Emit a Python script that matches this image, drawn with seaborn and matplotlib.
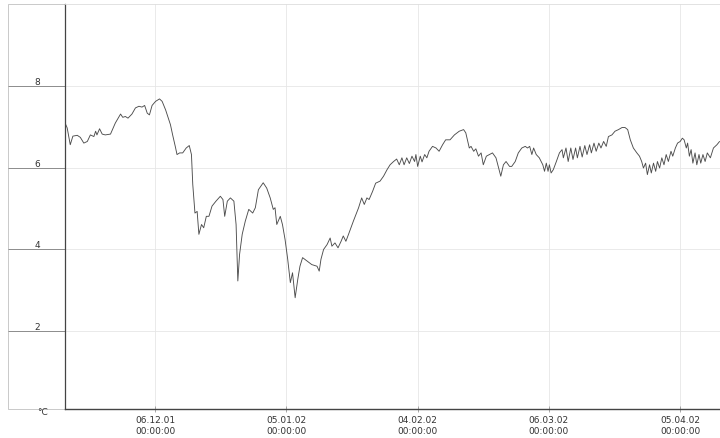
import matplotlib
matplotlib.use("Agg")
import matplotlib.pyplot as plt
import numpy as np
import pandas as pd
import seaborn as sns
from matplotlib.patches import Rectangle

# days counted from 06.12.01 00:00
day = [-20.5, -20.1, -19.4, -18.8, -17.8, -17.1, -16.3, -15.5, -14.8, -14.0,
       -13.6, -13.3, -12.7, -12.1, -11.4, -10.2, -9.1, -7.9, -7.4, -6.8,
       -6.2, -5.3, -4.5, -3.7, -3.0, -2.4, -1.8, -1.3, -0.7, 0.1,
       1.0, 1.6, 2.4, 3.0, 3.5, 4.0, 4.6, 5.0, 5.6, 6.3,
       7.1, 7.8, 8.3, 8.6, 9.1, 9.6, 10.0, 10.6, 11.1, 11.7,
       12.3, 13.0, 13.9, 14.9, 15.5, 15.9, 16.5, 17.2, 18.0, 18.5,
       18.9, 19.3, 19.9, 20.6, 21.4, 22.3, 22.9, 23.6, 24.7, 25.5,
       26.3, 27.0, 27.4, 27.8, 28.6, 29.1, 29.7, 30.3, 30.9, 31.4,
       32.0, 32.6, 33.1, 33.7, 34.7, 35.8, 37.0, 37.5, 37.9, 38.5,
       39.3, 40.0, 40.4, 41.1, 41.8, 42.5, 43.0, 43.6, 44.2, 45.3,
       46.5, 47.2, 47.8, 48.4, 48.9, 49.7, 50.4, 51.4, 52.2, 53.0,
       53.7, 54.5, 55.2, 55.8, 56.4, 56.9, 57.5, 58.1, 58.7, 59.3,
       59.6, 60.0, 60.6, 61.0, 61.6, 62.1, 62.6, 63.4, 64.2, 64.9,
       65.7, 66.4, 67.4, 68.4, 69.5, 70.5, 71.0, 71.8, 72.2, 72.8,
       73.3, 73.9, 74.5, 75.0, 75.7, 76.4, 77.1, 77.9, 78.5, 79.0,
       79.6, 80.2, 81.0, 81.5, 82.3, 83.0, 83.8, 84.6, 85.1, 85.6,
       86.1, 86.5, 87.1, 87.8, 88.6, 89.0, 89.4, 89.8, 90.1, 90.5,
       91.0, 91.7, 92.4, 93.0, 93.3, 93.9, 94.4, 95.0, 95.5, 96.1,
       96.5, 97.1, 97.6, 98.2, 98.7, 99.3, 99.7, 100.3, 100.8, 101.4,
       101.9, 102.5, 103.1, 103.6, 104.4, 105.1, 105.9, 106.7, 107.4, 108.0,
       108.6, 109.3, 110.1, 110.7, 111.2, 111.6, 112.1, 112.5, 113.0, 113.4,
       113.9, 114.4, 114.8, 115.3, 115.8, 116.3, 116.8, 117.3, 117.9, 118.3,
       118.9, 119.4, 120.0, 120.5, 120.9, 121.4, 121.7, 122.1, 122.5, 122.9,
       123.4, 123.8, 124.3, 124.7, 125.2, 125.7, 126.2, 126.9, 127.6, 128.4,
       129.0]

temp = [7.07, 6.97, 6.56, 6.77, 6.79, 6.74, 6.60, 6.64, 6.80, 6.76,
        6.89, 6.80, 6.95, 6.82, 6.80, 6.82, 7.09, 7.31, 7.23, 7.25,
        7.21, 7.31, 7.46, 7.50, 7.48, 7.52, 7.33, 7.29, 7.52, 7.62,
        7.68, 7.62, 7.41, 7.21, 7.05, 6.80, 6.52, 6.32, 6.36, 6.36,
        6.48, 6.54, 6.32, 5.59, 4.89, 4.93, 4.37, 4.61, 4.53, 4.81,
        4.81, 5.06, 5.18, 5.30, 5.22, 4.81, 5.18, 5.26, 5.18, 4.61,
        3.23, 3.88, 4.37, 4.69, 4.98, 4.89, 5.02, 5.46, 5.63, 5.50,
        5.26, 4.98, 5.02, 4.61, 4.81, 4.61, 4.24, 3.76, 3.19, 3.43,
        2.82, 3.27, 3.59, 3.80, 3.72, 3.63, 3.59, 3.47, 3.76, 4.00,
        4.12, 4.28, 4.08, 4.16, 4.04, 4.20, 4.33, 4.20, 4.37, 4.69,
        5.02, 5.26, 5.10, 5.26, 5.22, 5.42, 5.62, 5.67, 5.79, 5.95,
        6.07, 6.15, 6.21, 6.07, 6.24, 6.07, 6.24, 6.10, 6.28, 6.15,
        6.32, 6.03, 6.28, 6.14, 6.32, 6.24, 6.40, 6.52, 6.48, 6.40,
        6.56, 6.68, 6.68, 6.80, 6.89, 6.93, 6.85, 6.48, 6.52, 6.40,
        6.46, 6.28, 6.36, 6.07, 6.28, 6.32, 6.36, 6.24, 5.99, 5.79,
        6.07, 6.15, 6.03, 6.03, 6.15, 6.36, 6.48, 6.52, 6.48, 6.52,
        6.32, 6.48, 6.32, 6.24, 6.07, 5.91, 6.11, 5.91, 6.07, 5.87,
        5.95, 6.15, 6.36, 6.44, 6.24, 6.48, 6.15, 6.48, 6.20, 6.48,
        6.24, 6.52, 6.26, 6.54, 6.32, 6.56, 6.36, 6.60, 6.40, 6.60,
        6.48, 6.64, 6.52, 6.76, 6.80, 6.89, 6.93, 6.98, 6.98, 6.93,
        6.68, 6.48, 6.36, 6.28, 6.15, 5.99, 6.11, 5.83, 6.07, 5.87,
        6.11, 5.91, 6.15, 5.99, 6.24, 6.07, 6.32, 6.15, 6.40, 6.28,
        6.48, 6.60, 6.64, 6.72, 6.68, 6.48, 6.60, 6.28, 6.44, 6.11,
        6.36, 6.07, 6.32, 6.11, 6.32, 6.15, 6.36, 6.24, 6.48, 6.56,
        6.64]

origin = pd.Timestamp("2001-12-06")
tick_dates = ["2001-12-06", "2002-01-05", "2002-02-04", "2002-03-06", "2002-04-05"]
tick_labels = ["06.12.01\n00:00:00", "05.01.02\n00:00:00", "04.02.02\n00:00:00",
               "06.03.02\n00:00:00", "05.04.02\n00:00:00"]
y_ticks = [2, 4, 6, 8]

df = pd.DataFrame({"time": origin + pd.to_timedelta(day, unit="D"), "temp": temp})

sns.set_theme(style="white")
fig = plt.figure(figsize=(7.2, 4.39), dpi=100)
W, H = 720, 439

# left label panel frame, drawn underneath the axes
fig.add_artist(Rectangle((8 / W, 1 - 410 / H), 57 / W, 405 / H, transform=fig.transFigure,
                         fill=False, ec="#c0c0c0", lw=0.6, zorder=-1))

ax = fig.add_axes([65 / W, 1 - 410 / H, 655 / W, 405 / H])
ax.patch.set_alpha(0)

sns.lineplot(data=df, x="time", y="temp", ax=ax, color="#4d4d4d", lw=0.65)

ax.set_xlim(origin + pd.Timedelta(days=-20.6), origin + pd.Timedelta(days=129.1))
ax.set_ylim(0.1, 10)
ax.set_xlabel("")
ax.set_ylabel("")

ax.set_xticks(pd.to_datetime(tick_dates))
ax.set_xticklabels(tick_labels)
ax.set_yticks(y_ticks)
ax.set_yticklabels([str(v) for v in y_ticks])

ax.grid(True, color="#e6e6e6", lw=0.6)
# seaborn "white" switches tick marks off, turn them back on
ax.tick_params(axis="x", bottom=True, length=5, width=0.6, color="#999999", direction="inout",
               labelsize=6.5, labelcolor="#333333", pad=2)
ax.tick_params(axis="y", left=True, length=41, width=0.7, color="#8c8c8c", direction="out",
               labelsize=6.5, labelcolor="#333333", pad=-21)
for lbl in ax.get_yticklabels():
    lbl.set_ha("center")
    lbl.set_va("bottom")
for lbl in ax.get_xticklabels():
    lbl.set_linespacing(1.3)

ax.spines["right"].set_visible(False)
ax.spines["top"].set_color("#dddddd")
ax.spines["top"].set_linewidth(0.6)
ax.spines["left"].set_color("#444444")
ax.spines["left"].set_linewidth(0.9)
ax.spines["bottom"].set_color("#444444")
ax.spines["bottom"].set_linewidth(1.0)

fig.text(42 / W, 1 - 413 / H, "°C", fontsize=6.5, color="#333333", ha="center", va="center")

fig.savefig("out.png", dpi=100, facecolor="white")
